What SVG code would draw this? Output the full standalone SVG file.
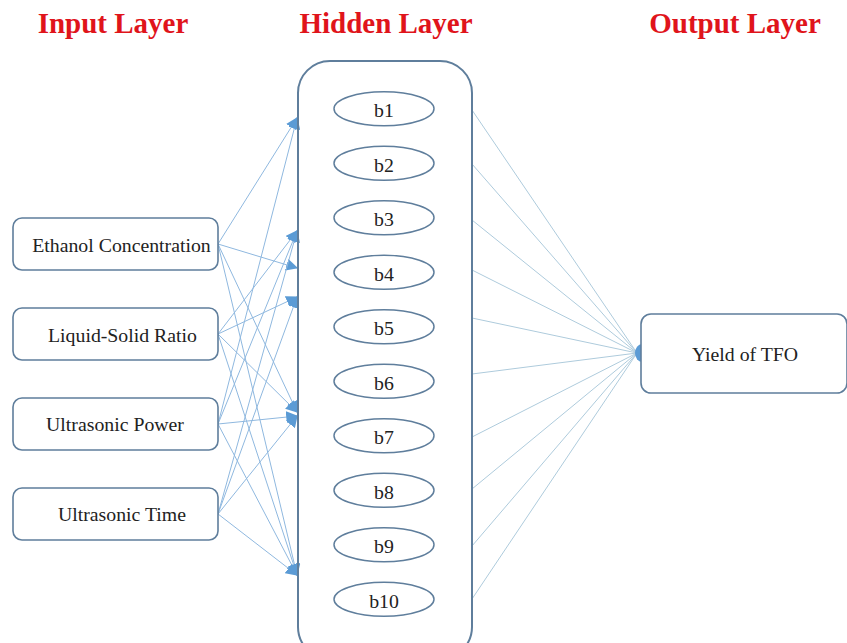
<svg xmlns="http://www.w3.org/2000/svg" width="847" height="643" viewBox="0 0 847 643">
<style>
.title{font-family:"Liberation Serif","Times New Roman",serif;font-weight:bold;font-size:29px;fill:#e0141b;text-anchor:middle}
.lbl{font-family:"Liberation Serif","Times New Roman",serif;font-size:19.8px;fill:#222;text-anchor:middle}
.box{fill:#fff;stroke:#5f7e9c;stroke-width:1.6}
.ell{fill:#fff;stroke:#5f7e9c;stroke-width:1.5}
.in{stroke:#8fb8df;stroke-width:1;fill:none}
.out{stroke:#aecbdc;stroke-width:1;fill:none}
</style>
<defs>
<marker id="ah" viewBox="0 0 10 10" refX="9" refY="5" markerWidth="12" markerHeight="12" markerUnits="userSpaceOnUse" orient="auto">
<path d="M0,0 L10,5 L0,10 z" fill="#5b9bd5"/>
</marker>
</defs>
<rect width="847" height="643" fill="#fff"/>
<text class="title" x="113" y="33">Input Layer</text>
<text class="title" x="386" y="33">Hidden Layer</text>
<text class="title" x="735" y="33">Output Layer</text>

<g id="connectors">
<line class="in" x1="218" y1="244" x2="297" y2="118" marker-end="url(#ah)"/>
<line class="in" x1="218" y1="244" x2="297" y2="268" marker-end="url(#ah)"/>
<line class="in" x1="218" y1="244" x2="297" y2="412" marker-end="url(#ah)"/>
<line class="in" x1="218" y1="244" x2="297" y2="575" marker-end="url(#ah)"/>
<line class="in" x1="218" y1="334" x2="297" y2="231" marker-end="url(#ah)"/>
<line class="in" x1="218" y1="334" x2="297" y2="297" marker-end="url(#ah)"/>
<line class="in" x1="218" y1="334" x2="297" y2="412" marker-end="url(#ah)"/>
<line class="in" x1="218" y1="334" x2="297" y2="575" marker-end="url(#ah)"/>
<line class="in" x1="218" y1="424" x2="297" y2="118" marker-end="url(#ah)"/>
<line class="in" x1="218" y1="424" x2="297" y2="231" marker-end="url(#ah)"/>
<line class="in" x1="218" y1="424" x2="297" y2="416" marker-end="url(#ah)"/>
<line class="in" x1="218" y1="424" x2="297" y2="575" marker-end="url(#ah)"/>
<line class="in" x1="218" y1="514" x2="297" y2="231" marker-end="url(#ah)"/>
<line class="in" x1="218" y1="514" x2="297" y2="297" marker-end="url(#ah)"/>
<line class="in" x1="218" y1="514" x2="297" y2="416" marker-end="url(#ah)"/>
<line class="in" x1="218" y1="514" x2="297" y2="575" marker-end="url(#ah)"/>
<line class="out" x1="472" y1="110" x2="637" y2="353"/>
<line class="out" x1="472" y1="164" x2="637" y2="353"/>
<line class="out" x1="472" y1="220" x2="637" y2="353"/>
<line class="out" x1="472" y1="270" x2="637" y2="353"/>
<line class="out" x1="472" y1="318" x2="637" y2="353"/>
<line class="out" x1="472" y1="374" x2="637" y2="353"/>
<line class="out" x1="472" y1="437" x2="637" y2="353"/>
<line class="out" x1="472" y1="489" x2="637" y2="353"/>
<line class="out" x1="472" y1="546" x2="637" y2="353"/>
<line class="out" x1="472" y1="599" x2="637" y2="353"/>
<ellipse cx="642" cy="353" rx="7" ry="9" fill="#5b9bd5"/>
</g>

<g id="input-ethanol">
<rect class="box" x="13" y="218" width="205" height="52" rx="9"/>
<text class="lbl" x="121.5" y="252">Ethanol Concentration</text>
</g>
<g id="input-liquid">
<rect class="box" x="13" y="308" width="205" height="52" rx="9"/>
<text class="lbl" x="122.5" y="342">Liquid-Solid Ratio</text>
</g>
<g id="input-power">
<rect class="box" x="13" y="398" width="205" height="52" rx="9"/>
<text class="lbl" x="115" y="431">Ultrasonic Power</text>
</g>
<g id="input-time">
<rect class="box" x="13" y="488" width="205" height="52" rx="9"/>
<text class="lbl" x="122" y="521">Ultrasonic Time</text>
</g>

<g id="hidden-layer">
<rect x="298" y="61" width="174" height="598" rx="32" fill="none" stroke="#5f7e9c" stroke-width="2"/>
</g>
<g id="b1"><ellipse class="ell" cx="384" cy="108.7" rx="50" ry="17"/><text class="lbl" x="384" y="117">b1</text></g>
<g id="b2"><ellipse class="ell" cx="384" cy="163.2" rx="50" ry="17"/><text class="lbl" x="384" y="171.5">b2</text></g>
<g id="b3"><ellipse class="ell" cx="384" cy="217.7" rx="50" ry="17"/><text class="lbl" x="384" y="226">b3</text></g>
<g id="b4"><ellipse class="ell" cx="384" cy="272.2" rx="50" ry="17"/><text class="lbl" x="384" y="280.5">b4</text></g>
<g id="b5"><ellipse class="ell" cx="384" cy="326.7" rx="50" ry="17"/><text class="lbl" x="384" y="335">b5</text></g>
<g id="b6"><ellipse class="ell" cx="384" cy="381.2" rx="50" ry="17"/><text class="lbl" x="384" y="389.5">b6</text></g>
<g id="b7"><ellipse class="ell" cx="384" cy="435.7" rx="50" ry="17"/><text class="lbl" x="384" y="444">b7</text></g>
<g id="b8"><ellipse class="ell" cx="384" cy="490.2" rx="50" ry="17"/><text class="lbl" x="384" y="498.5">b8</text></g>
<g id="b9"><ellipse class="ell" cx="384" cy="544.7" rx="50" ry="17"/><text class="lbl" x="384" y="553">b9</text></g>
<g id="b10"><ellipse class="ell" cx="384" cy="599.2" rx="50" ry="17"/><text class="lbl" x="384" y="607.5">b10</text></g>

<g id="output-yield">
<rect class="box" x="641" y="314" width="206" height="79" rx="10"/>
<text class="lbl" x="745" y="361">Yield of TFO</text>
</g>
</svg>
